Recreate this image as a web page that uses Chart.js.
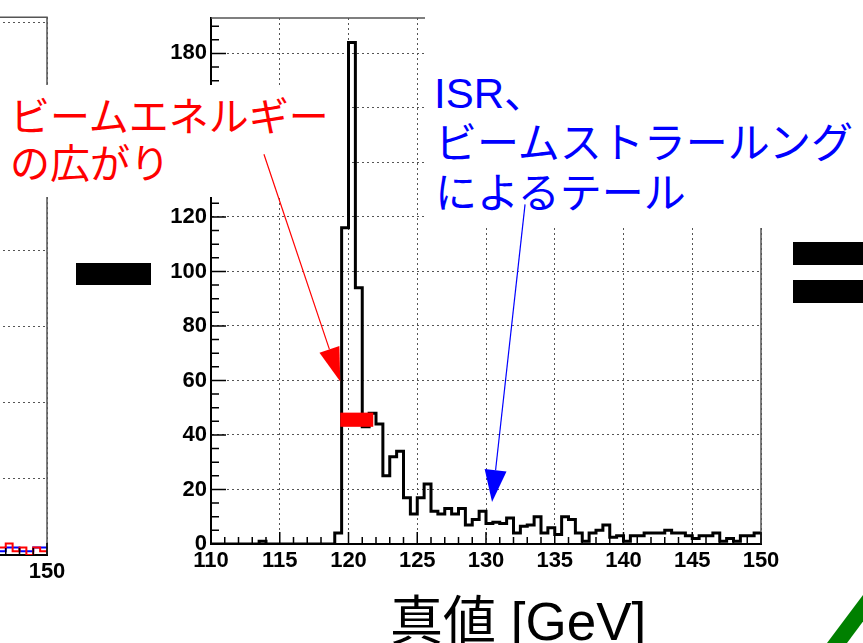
<!DOCTYPE html>
<html>
<head>
<meta charset="utf-8">
<script src="https://cdn.jsdelivr.net/npm/chart.js@4.4.1/dist/chart.umd.min.js"></script>
<style>
html, body { margin: 0; padding: 0; background: #fff; }
#page { position: relative; width: 863px; height: 643px; overflow: hidden; background: #fff; }
canvas { position: absolute; top: 0; }
.box { position: absolute; background: #fff; z-index: 1; }
.line { position: absolute; white-space: nowrap; line-height: 1; z-index: 2;
        font-family: "Liberation Sans", "Noto Sans CJK JP", sans-serif; }
.red { color: #ff0000; font-size: 40px; }
.blue { color: #0000ff; font-size: 42px; }
.bar { position: absolute; background: #000; z-index: 2; }
</style>
</head>
<body>
<div id="page">
  <canvas id="leftChart" style="left:-600px" width="700" height="643"></canvas>
  <canvas id="mainChart" style="left:0" width="863" height="643"></canvas>

  <div class="box" style="left:0;top:85px;width:345px;height:112px"></div>
  <div class="box" style="left:425px;top:0;width:438px;height:228px"></div>

  <div class="line red" style="left:10px;top:97px">ビームエネルギー</div>
  <div class="line red" style="left:10px;top:144px">の広がり</div>

  <div class="line blue" style="left:434px;top:73px">ISR、</div>
  <div class="line blue" style="left:435px;top:123px">ビームストラールング</div>
  <div class="line blue" style="left:435px;top:173px">によるテール</div>

  <div class="line" style="left:390px;top:595px;font-size:53px;color:#000">真値 [GeV]</div>

  <div class="bar" style="left:76px;top:263px;width:75px;height:22px"></div>
  <div class="bar" style="left:793px;top:242px;width:70px;height:23px"></div>
  <div class="bar" style="left:793px;top:280px;width:70px;height:23px"></div>
  <div style="position:absolute;left:820px;top:590px;width:43px;height:53px;background:#008000;z-index:2;
              clip-path:polygon(7px 53px, 27px 53px, 43px 31.5px, 43px 5px)"></div>

  <canvas id="overlay" style="left:0;z-index:3;pointer-events:none" width="863" height="643"></canvas>
</div>

<script>
// histogram of the true value, 0.5 GeV bins from 110 to 150
const binStart = 110;
const binWidth = 0.5;
const counts = [
  0, 0, 0, 0, 0, 0, 0, 1, 0, 0,
  0, 0, 0, 0, 0, 0, 0, 0, 4, 116,
  184, 94, 43, 48, 44, 25, 32, 34, 17, 11,
  17, 22, 12, 11, 13, 11, 13, 7, 9, 12,
  7.5, 8, 7.5, 9.5, 4, 6.5, 7, 10, 4, 6,
  3.5, 10, 9, 4, 1, 4, 5, 7, 2.5, 3,
  1, 3, 3, 4, 4, 4, 5, 4, 4, 3,
  2, 3, 3, 4, 1, 2, 1, 3, 3, 4
];

// the cut-off panel on the left, only its last bins are on screen
const leftBinStart = 146.5;
const leftRed = [2, 3, 1, 2, 0, 2, 1];
const leftBlue = [1, 2, 2, 1, 1, 2, 2];
const leftYTicks = [20, 40, 60, 80, 100, 120, 140];

// annotations, in axis units
const spreadBand = { x0: 119.4, x1: 121.8, y0: 43, y1: 48.2 };
const spreadArrow = { from: [113.85, 143], to: [119.4, 59.6] };
const tailArrow = { from: [132.84, 124.6], to: [130.44, 15.4] };

function stepPoints(start, width, values) {
  const pts = values.map((v, i) => ({ x: start + i * width, y: v }));
  pts.push({ x: start + values.length * width, y: values[values.length - 1] });
  return pts;
}

const tickFont = { family: 'Liberation Sans', size: 22, weight: 'bold' };

// ROOT style frame: thin top/right edges and inward ticks
const frameTicks = {
  id: 'frameTicks',
  afterDraw(chart) {
    const { ctx, chartArea: a, scales: { x, y } } = chart;
    ctx.save();
    ctx.strokeStyle = '#555';
    ctx.lineWidth = 1.5;
    ctx.beginPath();
    ctx.moveTo(a.left, a.top);
    ctx.lineTo(a.right, a.top);
    ctx.lineTo(a.right, a.bottom);
    ctx.stroke();

    ctx.strokeStyle = '#000';
    ctx.lineWidth = 1.5;
    ctx.beginPath();
    for (let v = Math.ceil(x.min); v <= x.max; v += 1) {
      const px = x.getPixelForValue(v);
      const len = v % 5 === 0 ? 12 : 7;
      ctx.moveTo(px, a.bottom);
      ctx.lineTo(px, a.bottom - len);
    }
    for (let v = 0; v <= y.max; v += 5) {
      const py = y.getPixelForValue(v);
      const len = v % 20 === 0 ? 15 : 8;
      ctx.moveTo(a.left, py);
      ctx.lineTo(a.left + len, py);
    }
    ctx.stroke();
    ctx.restore();
  }
};

function arrow(ctx, x, y, spec, color, headLen, headHalf) {
  const x0 = x.getPixelForValue(spec.from[0]), y0 = y.getPixelForValue(spec.from[1]);
  const x1 = x.getPixelForValue(spec.to[0]), y1 = y.getPixelForValue(spec.to[1]);
  const len = Math.hypot(x1 - x0, y1 - y0);
  const ux = (x1 - x0) / len, uy = (y1 - y0) / len;
  const bx = x1 - ux * headLen, by = y1 - uy * headLen;
  ctx.strokeStyle = color;
  ctx.fillStyle = color;
  ctx.lineWidth = 1.2;
  ctx.beginPath();
  ctx.moveTo(x0, y0);
  ctx.lineTo(bx, by);
  ctx.stroke();
  ctx.beginPath();
  ctx.moveTo(x1, y1);
  ctx.lineTo(bx - uy * headHalf, by + ux * headHalf);
  ctx.lineTo(bx + uy * headHalf, by - ux * headHalf);
  ctx.closePath();
  ctx.fill();
}

const notes = {
  id: 'notes',
  afterDraw(chart) {
    const { x, y } = chart.scales;
    const ctx = document.getElementById('overlay').getContext('2d');
    ctx.clearRect(0, 0, 863, 643);
    ctx.fillStyle = '#ff0000';
    const rx0 = x.getPixelForValue(spreadBand.x0), rx1 = x.getPixelForValue(spreadBand.x1);
    const ry0 = y.getPixelForValue(spreadBand.y1), ry1 = y.getPixelForValue(spreadBand.y0);
    ctx.fillRect(rx0, ry0, rx1 - rx0, ry1 - ry0);
    arrow(ctx, x, y, spreadArrow, '#ff0000', 34, 10.5);
    arrow(ctx, x, y, tailArrow, '#0000ff', 32, 11);
  }
};

function gridOpts() {
  return { color: '#555', lineWidth: 1, drawTicks: false };
}
function borderOpts() {
  return { color: '#000', width: 2, dash: [2, 3] };
}

new Chart(document.getElementById('mainChart'), {
  type: 'line',
  data: {
    datasets: [{
      data: stepPoints(binStart, binWidth, counts),
      stepped: 'before',
      borderColor: '#000',
      borderWidth: 3,
      borderJoinStyle: 'miter',
      pointRadius: 0,
      fill: false
    }]
  },
  options: {
    responsive: false,
    animation: false,
    layout: { padding: { top: 18, right: 102, left: 0, bottom: 0 } },
    plugins: { legend: { display: false }, tooltip: { enabled: false } },
    scales: {
      x: {
        type: 'linear', min: 110, max: 150,
        afterFit: s => { s.height = 99; },
        ticks: { stepSize: 5, padding: 4, color: '#000', font: tickFont, maxRotation: 0, autoSkip: false },
        grid: gridOpts(),
        border: borderOpts()
      },
      y: {
        min: 0, max: 193,
        afterFit: s => { s.width = 211; },
        ticks: { stepSize: 20, includeBounds: false, padding: 4, color: '#000', font: tickFont },
        grid: gridOpts(),
        border: borderOpts()
      }
    }
  },
  plugins: [frameTicks, notes]
});

new Chart(document.getElementById('leftChart'), {
  type: 'line',
  data: {
    datasets: [
      { data: stepPoints(leftBinStart, binWidth, leftRed), stepped: 'before', borderColor: '#ff0000',
        borderWidth: 2, pointRadius: 0, fill: false },
      { data: stepPoints(leftBinStart, binWidth, leftBlue), stepped: 'before', borderColor: '#0000ff',
        borderWidth: 2, pointRadius: 0, fill: false }
    ]
  },
  options: {
    responsive: false,
    animation: false,
    layout: { padding: { top: 11, right: 53, left: 0, bottom: 0 } },
    plugins: { legend: { display: false }, tooltip: { enabled: false } },
    scales: {
      x: {
        type: 'linear', min: 110, max: 150,
        afterFit: s => { s.height = 88; },
        ticks: { stepSize: 5, padding: 4, color: '#000', font: tickFont, maxRotation: 0, autoSkip: false },
        grid: gridOpts(),
        border: borderOpts()
      },
      y: {
        min: 0, max: 141.3,
        afterFit: s => { s.width = 97; },
        afterBuildTicks: s => { s.ticks = leftYTicks.map(v => ({ value: v })); },
        ticks: { padding: 4, color: '#000', font: tickFont },
        grid: gridOpts(),
        border: borderOpts()
      }
    }
  },
  plugins: [frameTicks]
});
</script>
</body>
</html>
